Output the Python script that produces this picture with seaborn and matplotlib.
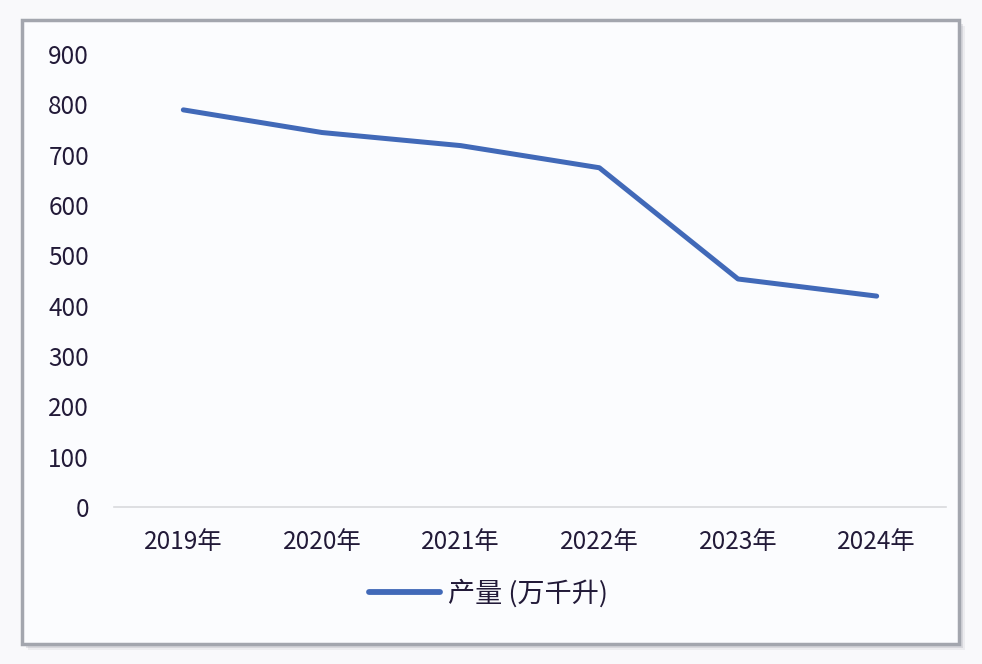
import numpy as np
import pandas as pd
import matplotlib
matplotlib.use("Agg")
import matplotlib.pyplot as plt
import seaborn as sns
from matplotlib.patches import Rectangle

years = ["2019年", "2020年", "2021年", "2022年", "2023年", "2024年"]
output = [789, 744, 718, 674, 453, 419]
series_name = "产量 (万千升)"

df = pd.DataFrame({"year": years, "value": output, "series": series_name})

sns.set_theme(style="white")
plt.rcParams["font.family"] = ["Noto Sans CJK SC", "DejaVu Sans"]

W, H = 982, 664
fig = plt.figure(figsize=(W / 100, H / 100), dpi=100)
fig.patch.set_facecolor("#f9f9fb")

# frame with a soft shadow
def px(x, y, w, h, **kw):
    return Rectangle((x / W, 1 - (y + h) / H), w / W, h / H,
                     transform=fig.transFigure, **kw)

for off, a in [(6, 0.10), (4, 0.18), (2, 0.30)]:
    fig.patches.append(px(22 + off, 20 + off, 937, 624, facecolor="#7a7d88",
                          alpha=a, edgecolor="none", zorder=0))
fig.patches.append(px(22, 20, 937, 624, facecolor="#fbfcfe",
                      edgecolor="#a3a6ae", linewidth=2.5, zorder=1))

ax = fig.add_axes([114 / W, 1 - 507 / H, (946 - 114) / W, (507 - 54) / H])
ax.set_facecolor("none")
ax.set_zorder(2)

sns.lineplot(data=df, x="year", y="value", hue="series", ax=ax,
             palette=["#4169b8"], linewidth=3.6, sort=False,
             solid_capstyle="round", solid_joinstyle="round")

ax.set_xlim(-0.5, len(years) - 0.5)
ax.set_ylim(0, 900)
ax.set_yticks(np.arange(0, 901, 100))
ax.set_xlabel("")
ax.set_ylabel("")
for s in ["top", "right", "left"]:
    ax.spines[s].set_visible(False)
ax.spines["bottom"].set_color("#d9dadd")
ax.spines["bottom"].set_linewidth(1.2)
ax.tick_params(axis="y", length=0, pad=18, labelsize=17.5, labelcolor="#221a38")
ax.tick_params(axis="x", length=0, pad=16, labelsize=17.5, labelcolor="#221a38")

leg = ax.legend(loc="center", bbox_to_anchor=(0.45, -0.19), frameon=False,
                fontsize=19.5, handlelength=2.6, handletextpad=0.3)
for t in leg.get_texts():
    t.set_color("#221a38")
for h in leg.get_lines():
    h.set_linewidth(4.2)

fig.savefig("out.png", dpi=100, facecolor=fig.get_facecolor())
